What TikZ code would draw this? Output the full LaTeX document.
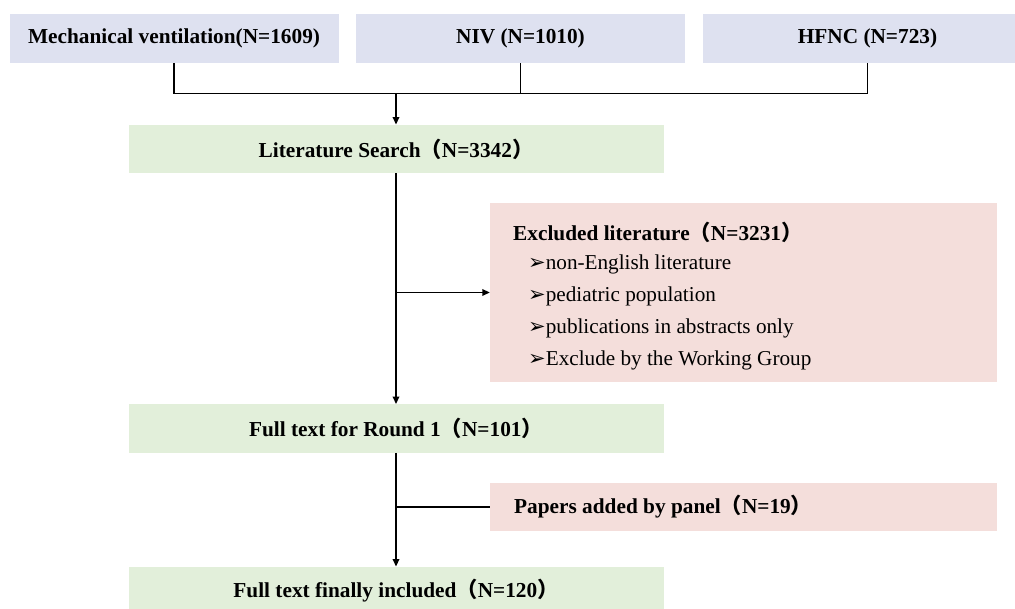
\documentclass[tikz,border=0pt]{standalone}
\usepackage{fontspec}
\setmainfont{Liberation Serif}
\newfontfamily\cjkfont{Noto Sans CJK SC}
\newfontfamily\symfont{DejaVu Sans}
\usetikzlibrary{arrows.meta}
\newcommand\lpar{{\cjkfont （}}
\newcommand\rpar{{\cjkfont ）}}
\newcommand\bul{{\symfont\fontsize{21}{24}\selectfont ➢}}
\definecolor{topfill}{HTML}{DEE1F0}
\definecolor{greenfill}{HTML}{E2EFDA}
\definecolor{pinkfill}{HTML}{F4DEDB}
\tikzset{
  box/.style={rectangle, inner sep=0pt, draw=none, font=\fontsize{21.3}{25}\selectfont\bfseries},
  topbox/.style={box, fill=topfill, minimum width=329pt, minimum height=49pt},
  greenbox/.style={box, fill=greenfill, minimum width=535pt, minimum height=48.5pt},
  pinkbox/.style={box, fill=pinkfill, minimum width=507pt},
  txt/.style={inner sep=0pt, anchor=west, font=\fontsize{21.2}{25}\selectfont},
  conn/.style={line width=1.8pt, draw=black},
  arr/.style={conn, -{Triangle[length=7.5pt,width=6.5pt]}}
}
\begin{document}
\begin{tikzpicture}[x=1pt,y=-1pt]
\useasboundingbox (0,0) rectangle (1015,609);
% top boxes
\node[topbox] (mv) at (174,38.5) {Mechanical ventilation(N=1609)};
\node[topbox] (niv) at (520.5,38.5) {NIV (N=1010)};
\node[topbox] (hf) at (867.5,38.5) {HFNC (N=723)};
% green boxes
\node[greenbox] (ls) at (396,149) {Literature Search\lpar N=3342\rpar};
\node[greenbox] (ft) at (396,428.5) {Full text for Round 1\lpar N=101\rpar};
\node[greenbox] (fi) at (396,591) {Full text finally included\lpar N=120\rpar};
% pink boxes
\node[pinkbox, minimum height=179pt] (ex) at (743.5,292.5) {};
\node[pinkbox, minimum height=48pt] (pa) at (743.5,507) {};
% texts in pink boxes
\node[txt, font=\fontsize{21.3}{25}\selectfont\bfseries] (ext) at (513,232) {Excluded literature\lpar N=3231\rpar};
\node[txt] (e1) at (528,264) {\bul non-English literature};
\node[txt] (e2) at (528,296) {\bul pediatric population};
\node[txt] (e3) at (528,328) {\bul publications in abstracts only};
\node[txt] (e4) at (528,360) {\bul Exclude by the Working Group};
\node[txt, font=\fontsize{21.3}{25}\selectfont\bfseries] (pat) at (514,507) {Papers added by panel\lpar N=19\rpar};
% connectors
\coordinate (j) at (396,93.5);
\draw[conn] (mv.south) |- (j) -| (hf.south);
\draw[conn] (niv.south) -- (niv.south |- j);
\draw[arr] (j) -- (ls.north);
\draw[arr] (ls.south) -- (ft.north);
\draw[arr] (ls.south |- ex.west) -- (ex.west);
\draw[arr] (ft.south) -- (fi.north);
\draw[conn] (ft.south |- pa.west) -- (pa.west);
\end{tikzpicture}
\end{document}
